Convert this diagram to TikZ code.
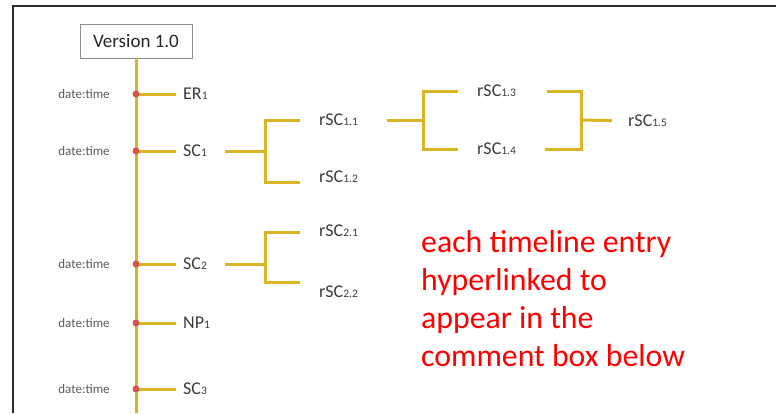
\documentclass[tikz,border=0pt]{standalone}
\usepackage{fontspec}
\setmainfont{Carlito}
\definecolor{tly}{RGB}{218,180,34}
\definecolor{tlred}{RGB}{214,84,74}
\definecolor{lblgray}{RGB}{60,60,60}
\definecolor{dategray}{RGB}{90,90,90}
\definecolor{framegray}{RGB}{45,45,45}
\definecolor{noteRed}{RGB}{255,0,0}
\newcommand\sbs[1]{{\fontsize{11.5}{11.5}\selectfont #1}}
\begin{document}
\begin{tikzpicture}[x=1pt,y=-1pt,
  frame/.style={line width=2.4pt, draw=framegray},
  trunk/.style={line width=3pt, draw=tly},
  branch/.style={line width=3pt, draw=tly, line join=miter},
  dot/.style={circle, fill=tlred, inner sep=0pt, minimum size=7pt},
  entry/.style={anchor=west, inner sep=0pt, text=lblgray, font=\fontsize{18}{18}\selectfont},
  stamp/.style={inner sep=0pt, text=dategray, font=\fontsize{13}{13}\selectfont},
  verbox/.style={draw=black!45, line width=0.9pt, minimum width=112pt, minimum height=34pt,
    inner sep=0pt, text=black!85, font=\fontsize{19}{19}\selectfont},
  note/.style={anchor=base west, align=left, inner sep=0pt, text=noteRed,
    font=\fontsize{31.8}{38}\selectfont}]
\useasboundingbox (0,0) rectangle (776,413);

% outer frame (left and top edges)
\draw[frame] (13,413) -- (13,6) -- (776,6);

% version header and main timeline
\node[verbox] (ver) at (136,41) {Version 1.0};
\coordinate (tlend) at (136,413);
\draw[trunk] (ver.south) -- (tlend);

% timeline entries
\foreach \i/\y/\txt in {1/94/{ER\sbs{1}}, 2/151/{SC\sbs{1}}, 3/264/{SC\sbs{2}},
                        4/323/{NP\sbs{1}}, 5/389/{SC\sbs{3}}}{
  \node[stamp] (t\i) at (84,\y) {date:time};
  \node[entry] (e\i) at (183,\y) {\txt};
  \draw[branch, shorten >=7pt] (136,\y) coordinate (p\i) -- (e\i.west);
  \node[dot] (d\i) at (p\i) {};
}

% revisions of SC1
\coordinate (j1) at (265,151);
\coordinate (a11) at (300,120);
\coordinate (a12) at (300,182);
\node[entry] (r11) at (319,120) {rSC\sbs{1.1}};
\node[entry] (r12) at (319,177) {rSC\sbs{1.2}};
\draw[branch, shorten <=18pt] (e2.east) -- (e2.east -| j1);
\draw[branch] (a11) -| (j1) |- (a12);

% revisions of rSC1.1
\coordinate (j2) at (423,120);
\coordinate (a13) at (458,91);
\coordinate (a14) at (458,149);
\node[entry] (r13) at (477,91) {rSC\sbs{1.3}};
\node[entry] (r14) at (477,149) {rSC\sbs{1.4}};
\draw[branch] (387,120) coordinate (c11) -- (j2);
\draw[branch] (a13) -| (j2) |- (a14);

% merge into rSC1.5
\coordinate (j3) at (581,120);
\coordinate (b13) at (547,91);
\coordinate (b14) at (545,149);
\node[entry] (r15) at (628,121) {rSC\sbs{1.5}};
\draw[branch] (b13) -| (j3) |- (b14);
\draw[branch, shorten >=16pt] (j3) -- (r15.west);

% revisions of SC2
\coordinate (j4) at (265,262);
\coordinate (a21) at (300,232);
\coordinate (a22) at (300,282);
\node[entry] (r21) at (319,231) {rSC\sbs{2.1}};
\node[entry] (r22) at (319,292) {rSC\sbs{2.2}};
\draw[branch, shorten <=18pt] (e3.east) -- (e3.east -| j4);
\draw[branch] (a21) -| (j4) |- (a22);

% annotation
\node[note] (memo) at (421,366) {each timeline entry\\hyperlinked to\\appear in the\\comment box below};
\end{tikzpicture}
\end{document}
